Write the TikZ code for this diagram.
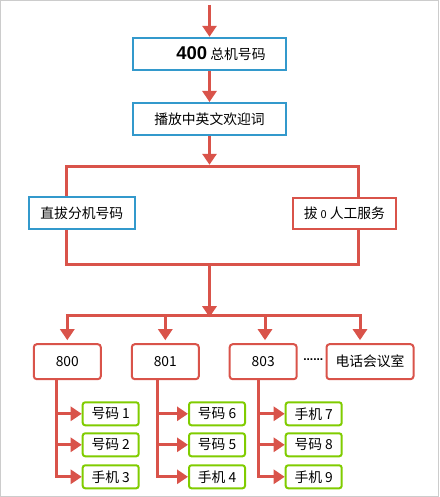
\documentclass[tikz,border=0pt]{standalone}
\usepackage{fontspec}
\setmainfont{Noto Sans CJK SC}
\newfontfamily\numfont{Liberation Sans}
\usetikzlibrary{arrows.meta}
\definecolor{cred}{HTML}{D9534A}
\definecolor{cblue}{HTML}{3399CC}
\definecolor{cgreen}{HTML}{80CC00}
\begin{document}
\begin{tikzpicture}[x=1pt,y=-1pt,
  every node/.style={font=\fontsize{13.8}{16}\selectfont, inner sep=0pt},
  bluebox/.style={draw=cblue, line width=2pt, fill=white, minimum height=32pt},
  redbox/.style={draw=cred, line width=2pt, fill=white, minimum height=31pt},
  extbox/.style={draw=cred, line width=2pt, fill=white, rounded corners=3pt, minimum height=35pt, minimum width=67pt},
  leafbox/.style={draw=cgreen, line width=2pt, fill=white, rounded corners=2.5pt, minimum height=23pt, minimum width=56pt},
  conn/.style={draw=cred, line width=3pt},
  arr/.style={conn, -{Triangle[width=14pt,length=11pt]}},
]
\useasboundingbox (0,0) rectangle (439,497);
\draw[gray!40, line width=1pt] (0.5,0.5) rectangle (438.5,496.5);

% main boxes
\node[bluebox, minimum width=153pt] (n400) at (209.5,53.8) {};
\node (t400) at (221,54) {{\numfont\bfseries\fontsize{18.5}{20}\selectfont 400} 总机号码};
\node[bluebox, minimum width=153pt] (wel) at (209.5,119) {播放中英文欢迎词};
\node[bluebox, minimum width=106pt] (dir) at (81.8,212.9) {直拔分机号码};
\node[redbox, minimum width=103pt] (op) at (344.4,213.5) {拔 {\fontsize{11}{12}\selectfont 0} 人工服务};

% extensions
\node[extbox] (e800) at (67.3,361.7) {800};
\node[extbox] (e801) at (165.3,361.7) {801};
\node[extbox] (e803) at (263.2,361.7) {803};
\node[extbox, minimum width=87pt] (conf) at (370,361.7) {电话会议室};
\node[font=\numfont\bfseries\fontsize{12}{12}\selectfont] (dots) at (313.3,359.3) {......};

% leaves
\node[leafbox] (a1) at (110.7,413.8) {号码 1};
\node[leafbox] (a2) at (110.7,444.8) {号码 2};
\node[leafbox] (a3) at (110.7,476.8) {手机 3};
\node[leafbox] (b1) at (217,413.8) {号码 6};
\node[leafbox] (b2) at (217,444.8) {号码 5};
\node[leafbox] (b3) at (217,476.8) {手机 4};
\node[leafbox] (c1) at (313.7,413.8) {手机 7};
\node[leafbox] (c2) at (313.7,444.8) {号码 8};
\node[leafbox] (c3) at (313.7,476.8) {手机 9};

% junction coordinates
\coordinate (top) at (209.5,5);
\coordinate (j1) at (209.5,166.3);
\coordinate (jl) at (66,166.3);
\coordinate (jr) at (358,166.3);
\coordinate (j2) at (209.5,264);
\coordinate (kl) at (66,264);
\coordinate (kr) at (358,264);
\coordinate (j3) at (209.5,315.7);
\coordinate (ml) at (67.3,315.7);
\coordinate (mr) at (360,315.7);
\coordinate (m3) at (265,315.7);
\coordinate (t1) at (56.7,361.7);
\coordinate (t2) at (157.7,361.7);
\coordinate (t3) at (258.7,361.7);

% connectors
\draw[arr] (top) -- (n400.north);
\draw[arr] (n400.south) -- (wel.north);
\draw[arr] (wel.south) -- ([yshift=1.5pt]j1);
\draw[conn] (jl |- dir.north) -- (jl) -- (jr) -- (jr |- op.north);
\draw[conn] (jl |- dir.south) -- (kl) -- (kr) -- (jr |- op.south);
\draw[arr] (j2) -- ([yshift=-1.5pt]j3);
\draw[conn] ([xshift=-1.5pt]ml) -- ([xshift=1.5pt]mr);
\draw[arr, shorten >=3pt] (ml) -- (e800.north);
\draw[arr, shorten >=3pt] (e801.north |- j3) -- (e801.north);
\draw[arr, shorten >=3pt] (m3) -- (m3 |- e803.north);
\draw[arr, shorten >=3pt] (mr) -- (mr |- conf.north);

\draw[conn] (t1 |- e800.south) -- (t1 |- a3.west) ;
\draw[arr] (t1 |- a1.west) -- (a1.west);
\draw[arr] (t1 |- a2.west) -- (a2.west);
\draw[arr] ([xshift=-1.5pt]t1 |- a3.west) -- (a3.west);

\draw[conn] (t2 |- e801.south) -- (t2 |- b3.west) ;
\draw[arr] (t2 |- b1.west) -- (b1.west);
\draw[arr] (t2 |- b2.west) -- (b2.west);
\draw[arr] ([xshift=-1.5pt]t2 |- b3.west) -- (b3.west);

\draw[conn] (t3 |- e803.south) -- (t3 |- c3.west) ;
\draw[arr] (t3 |- c1.west) -- (c1.west);
\draw[arr] (t3 |- c2.west) -- (c2.west);
\draw[arr] ([xshift=-1.5pt]t3 |- c3.west) -- (c3.west);
\end{tikzpicture}
\end{document}
